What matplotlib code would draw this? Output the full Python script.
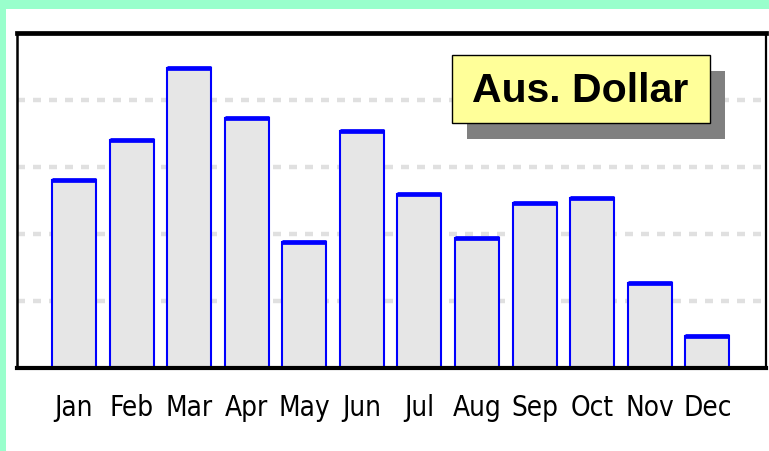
import matplotlib.pyplot as plt
from matplotlib.patches import Rectangle

months = ["Jan", "Feb", "Mar", "Apr", "May", "Jun",
          "Jul", "Aug", "Sep", "Oct", "Nov", "Dec"]
values = [2.81, 3.40, 4.48, 3.73, 1.88, 3.54, 2.60, 1.94, 2.46, 2.54, 1.27, 0.48]
grid_levels = [1, 2, 3, 4]
title = "Aus. Dollar"

W, H = 769, 451


def fx(px):
    return px / W


def fy(py):
    return 1 - py / H


fig = plt.figure(figsize=(W / 100, H / 100), dpi=100)
fig.patch.set_facecolor("#99FFCC")
fig.patches.append(Rectangle((fx(6), 0), 1 - fx(6), fy(9), transform=fig.transFigure,
                             facecolor="white", edgecolor="none", zorder=-10))

ax = fig.add_axes([fx(17), fy(368), fx(766) - fx(17), fy(33) - fy(368)])
ax.set_facecolor("white")

x = list(range(len(months)))
ax.bar(x, values, width=0.765, color="#E6E6E6", edgecolor="#0000FF",
       linewidth=1.5, zorder=2)
ax.hlines(values, [i - 0.3825 for i in x], [i + 0.3825 for i in x],
          color="#0000FF", linewidth=3.4, zorder=3)

for g in grid_levels:
    ax.axhline(g, color="#E0E0E0", linewidth=3.2, linestyle=(0, (1.8, 1.8)), zorder=1)

ax.set_xlim(-0.99, 12.02)
ax.set_ylim(0, 5)
ax.set_yticks([])
ax.set_xticks(x)
ax.set_xticklabels(months, family=["Liberation Sans Narrow", "DejaVu Sans"],
                   fontstretch="condensed", fontsize=20)
ax.tick_params(axis="x", length=0, pad=19)

for side, lw in [("top", 3.4), ("bottom", 3.0), ("left", 1.8), ("right", 1.6)]:
    ax.spines[side].set_linewidth(lw)
    ax.spines[side].set_color("black")

# title box with shadow
fig.patches.append(Rectangle((fx(467), fy(139)), fx(258), 68 / H, transform=fig.transFigure,
                             facecolor="#808080", edgecolor="none", zorder=5))
fig.patches.append(Rectangle((fx(452), fy(123)), fx(258), 68 / H, transform=fig.transFigure,
                             facecolor="#FFFF99", edgecolor="black", linewidth=1.0, zorder=6))
fig.text(fx(580), fy(91), title, ha="center", va="center", fontsize=29.5,
         fontweight="bold", family="Liberation Sans", zorder=7)

fig.savefig("out.png", dpi=100, facecolor=fig.get_facecolor())
